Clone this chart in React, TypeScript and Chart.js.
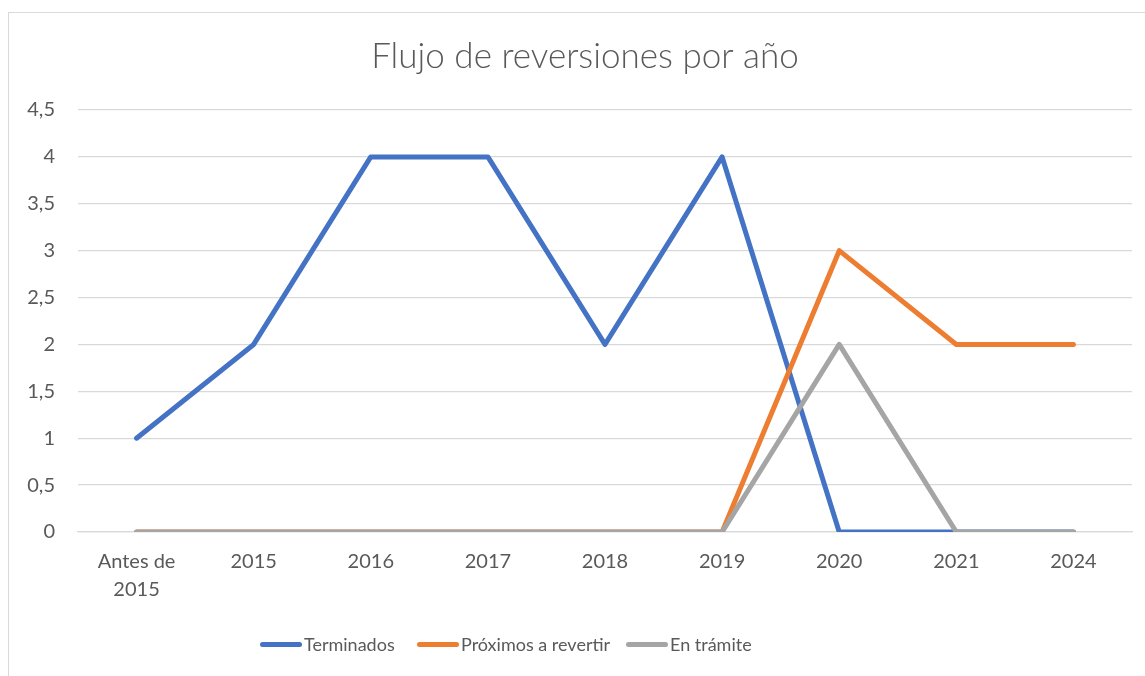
import React, { useEffect, useRef } from "react";
import { Chart, registerables } from "chart.js";

Chart.register(...registerables);

const categories: (string | string[])[] = [["Antes de", "2015"], "2015", "2016", "2017", "2018", "2019", "2020", "2021", "2024"];
const terminados = [1, 2, 4, 4, 2, 4, 0, 0, 0];
const proximos = [0, 0, 0, 0, 0, 0, 3, 2, 2];
const enTramite = [0, 0, 0, 0, 0, 0, 2, 0, 0];
const seriesNames = ["Terminados", "Próximos a revertir", "En trámite"];
const seriesColors = ["#4472C4", "#ED7D31", "#A5A5A5"];
const titleText = "Flujo de reversiones por año";

const FONT = "Lato, 'Open Sans', sans-serif";
const CANVAS_W = 1170;
const CANVAS_H = 676;

const titleCenterPlugin = {
  id: "titleCenter",
  afterLayout(chart: any) {
    const tb = chart.titleBlock;
    if (tb) {
      tb.left = 0;
      tb.right = CANVAS_W;
      tb.width = CANVAS_W;
    }
  },
};

export default function App() {
  const ref = useRef<HTMLCanvasElement | null>(null);

  useEffect(() => {
    if (!ref.current) return;
    const data = [terminados, proximos, enTramite];
    const chart = new Chart(ref.current, {
      type: "line",
      data: {
        labels: categories,
        datasets: data.map((d, i) => ({
          label: seriesNames[i],
          data: d,
          borderColor: seriesColors[i],
          backgroundColor: seriesColors[i],
          borderWidth: 5,
          borderCapStyle: "round" as const,
          borderJoinStyle: "round" as const,
          pointRadius: 0,
          tension: 0,
          order: 3 - i,
        })),
      },
      plugins: [titleCenterPlugin],
      options: {
        responsive: false,
        animation: false,
        layout: { padding: { left: 0, right: 38, top: 0, bottom: 0 } },
        plugins: {
          legend: { display: false },
          tooltip: { enabled: false },
          title: {
            display: true,
            text: titleText,
            color: "#595959",
            font: { family: FONT, size: 35, weight: "300" as any, lineHeight: 1.2 },
            padding: { top: 36, bottom: 32 },
          },
        },
        scales: {
          x: {
            offset: true,
            grid: { display: false, drawTicks: false, offset: true },
            border: { display: true, color: "#d9d9d9", width: 1.3 },
            ticks: {
              color: "#595959",
              font: { family: FONT, size: 20, lineHeight: 1.4 },
              padding: 16,
              maxRotation: 0,
              autoSkip: false,
            },
            afterFit: (scale: any) => {
              scale.height = 144;
            },
          },
          y: {
            min: 0,
            max: 4.5,
            grid: { color: "#d9d9d9", lineWidth: 1.3, drawTicks: false },
            border: { display: false },
            ticks: {
              stepSize: 0.5,
              color: "#595959",
              font: { family: FONT, size: 20 },
              padding: 23,
              callback: (v: any) => String(v).replace(".", ","),
            },
            afterFit: (scale: any) => {
              scale.width = 78;
            },
          },
        },
      },
    });
    return () => chart.destroy();
  }, []);

  return (
    <div style={{ position: "absolute", left: 0, top: 0, width: 1145, height: 676, overflow: "hidden", background: "#fff" }}>
      <div
        style={{
          position: "absolute",
          left: 8,
          top: 12,
          width: 1170,
          height: 700,
          border: "1.5px solid #d9d9d9",
          boxSizing: "border-box",
        }}
      />
      <canvas ref={ref} width={CANVAS_W} height={CANVAS_H} style={{ position: "absolute", left: 0, top: 0 }} />
      <div
        style={{
          position: "absolute",
          left: 260,
          top: 633,
          display: "flex",
          alignItems: "center",
          fontFamily: FONT,
          fontSize: 18,
          color: "#595959",
          whiteSpace: "nowrap",
        }}
      >
        {seriesNames.map((n, i) => (
          <div
            key={n}
            style={{
              display: "flex",
              alignItems: "center",
              flexShrink: 0,
              width: i === 0 ? 157 : i === 1 ? 209 : undefined,
            }}
          >
            <span
              style={{
                display: "inline-block",
                flexShrink: 0,
                width: 42,
                height: 5,
                borderRadius: 3,
                background: seriesColors[i],
                marginRight: 2,
              }}
            />
            <span>{n}</span>
          </div>
        ))}
      </div>
    </div>
  );
}
